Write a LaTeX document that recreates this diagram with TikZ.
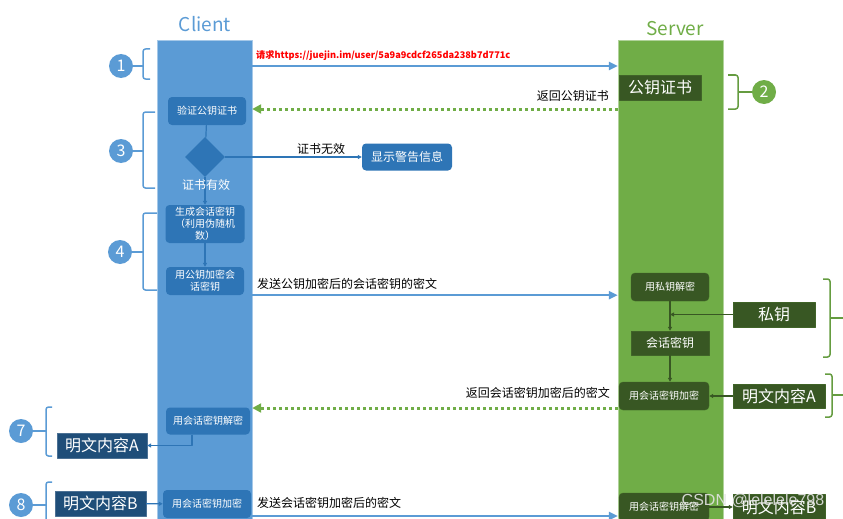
\documentclass[tikz,border=0pt]{standalone}
\usepackage{fontspec}
\setmainfont{Noto Sans CJK SC}
\newfontfamily\wmfont{Liberation Sans}
\usetikzlibrary{shapes.geometric,arrows.meta,calc}

\definecolor{clientblue}{HTML}{5B9BD5}
\definecolor{boxblue}{HTML}{2E75B6}
\definecolor{navyblue}{HTML}{1F4E79}
\definecolor{servergreen}{HTML}{70AD47}
\definecolor{boxgreen}{HTML}{385723}

\begin{document}
\begin{tikzpicture}[x=1pt, y=-1pt, line join=round,
	cbox/.style={fill=boxblue, rounded corners=4pt, text=white, align=center, inner sep=0pt},
	sbox/.style={fill=boxgreen, draw=boxgreen!85!servergreen, text=white, align=center, inner sep=0pt},
	navybox/.style={fill=navyblue, draw=navyblue!80!white, text=white, inner sep=0pt, font=\fontsize{16}{16}\selectfont},
	numc/.style={circle, fill=clientblue, text=white, minimum size=24pt, inner sep=0pt, font=\fontsize{16}{16}\selectfont},
	nums/.style={numc, fill=servergreen},
	cbrace/.style={clientblue, line width=1.5pt, rounded corners=2.5pt},
	sbrace/.style={servergreen!90!black, line width=1.5pt, rounded corners=2.5pt},
	bigarrow/.style={clientblue, line width=2.5pt, -{Triangle[length=9pt,width=8pt]}},
	dotarrow/.style={servergreen, line width=3pt, dash pattern=on 3pt off 3pt, -{Triangle[length=9pt,width=9pt]}},
	carrow/.style={boxblue, line width=1.2pt, -{Triangle[length=4pt,width=4pt]}},
	sarrow/.style={boxgreen, line width=1.2pt, -{Triangle[length=4pt,width=4pt]}},
	lbl/.style={text=black, inner sep=0pt, font=\fontsize{12}{12}\selectfont}]

\useasboundingbox (0,0) rectangle (843,519);

% columns
\node (client) at (204.5, 285) [fill=clientblue, draw=clientblue!55!white, minimum width=95, minimum height=490, inner sep=0pt] {};
\node (server) at (670.5, 285) [fill=servergreen, draw=servergreen!55!white, minimum width=105, minimum height=490, inner sep=0pt] {};
\node (clientname) at (205, 24) [text=clientblue, font=\fontsize{19}{19}\selectfont] {Client};
\node (servername) at (675, 29) [text=servergreen, font=\fontsize{19}{19}\selectfont] {Server};

% step 1
\draw[bigarrow] (client.east |- 0,66) -- (server.west |- 0,66);
\node (url) at (256, 56) [anchor=west, inner sep=0pt, text=red, font=\bfseries\fontsize{9.2}{9.2}\selectfont] {请求https://juejin.im/user/5a9a9cdcf265da238b7d771c};

% step 2
\node (cert) at (660, 87.5) [sbox, minimum width=82, minimum height=25, font=\fontsize{16}{16}\selectfont] {公钥证书};
\draw[dotarrow] (server.west |- 0,109) -- (client.east |- 0,109);
\node (certlbl) at (609, 96) [lbl, anchor=east] {返回公钥证书};

% step 3
\node (verify) at (207, 111) [cbox, minimum width=78, minimum height=28, font=\fontsize{10}{10}\selectfont] {验证公钥证书};
\node (check) at (205, 157) [diamond, fill=boxblue, minimum width=40, minimum height=40, inner sep=0pt] {};
\node (warn) at (407, 157) [cbox, minimum width=90, minimum height=27, font=\fontsize{12}{12}\selectfont] {显示警告信息};
\draw[boxblue, line width=1.2pt] (verify) -- (check);
\draw[carrow] (check.east) -- (warn.west);
\node (invalid) at (321, 149) [lbl] {证书无效};

% step 4
\node (gen) at (205, 224) [cbox, minimum width=79, minimum height=38, font=\fontsize{10}{12}\selectfont] {生成会话密钥\\（利用伪随机\\数）};
\node (encpub) at (205, 281) [cbox, minimum width=78, minimum height=28, font=\fontsize{10}{12}\selectfont] {用公钥加密会\\话密钥};
\draw[carrow] (check.south) -- (gen.north);
\node (valid) at (206, 185) [text=white, inner sep=1pt, font=\fontsize{12}{12}\selectfont] {证书有效};
\draw[carrow] (gen) -- (encpub);
\draw[bigarrow] (client.east |- encpub.south) -- (server.west |- encpub.south);
\node (sendlbl) at (257, 284) [lbl, anchor=west] {发送公钥加密后的会话密钥的密文};

% step 5
\node (decprv) at (670, 287) [sbox, rounded corners=4pt, minimum width=78, minimum height=28, font=\fontsize{10}{10}\selectfont] {用私钥解密};
\node (sesskey) at (670, 343) [sbox, minimum width=78, minimum height=24, font=\fontsize{12}{12}\selectfont] {会话密钥};
\node (prvkey) at (774, 314.5) [sbox, minimum width=82, minimum height=25, font=\fontsize{16}{16}\selectfont] {私钥};
\draw[sarrow] (decprv) -- (sesskey);
\draw[sarrow] (prvkey.west) -- (decprv.south |- prvkey.west);

% step 6
\node (encsess) at (664, 396) [sbox, rounded corners=4pt, minimum width=90, minimum height=28, font=\fontsize{10}{10}\selectfont] {用会话密钥加密};
\node (plainAs) at (779, 396) [sbox, minimum width=92, minimum height=24, font=\fontsize{16}{16}\selectfont] {明文内容A};
\draw[sarrow] (sesskey.south) -- (sesskey.south |- encsess.north);
\draw[sarrow] (plainAs) -- (encsess);
\draw[dotarrow] (server.west |- 0,408) -- (client.east |- 0,408);
\node (retlbl) at (610, 393) [lbl, anchor=east] {返回会话密钥加密后的密文};

% step 7
\node (decsess) at (208, 421) [cbox, minimum width=84, minimum height=27, font=\fontsize{10}{10}\selectfont] {用会话密钥解密};
\node (plainA) at (102, 445.5) [navybox, minimum width=90, minimum height=25] {明文内容A};
\draw[carrow] ($(decsess.south)+(-16,0)$) |- (plainA.east);

% step 8
\node (plainB) at (100.5, 503.5) [navybox, minimum width=91, minimum height=25] {明文内容B};
\node (encsessc) at (207, 504) [cbox, minimum width=88, minimum height=28, font=\fontsize{10}{10}\selectfont] {用会话密钥加密};
\draw[carrow] (plainB) -- (encsessc);
\draw[bigarrow] (client.east |- 0,516) -- (server.west |- 0,516);
\node (sendlbl2) at (257, 503) [lbl, anchor=west] {发送会话密钥加密后的密文};
\node (decsesss) at (664, 507) [sbox, rounded corners=4pt, minimum width=90, minimum height=28, font=\fontsize{10}{10}\selectfont] {用会话密钥解密};
\node (plainBs) at (779, 507) [sbox, minimum width=92, minimum height=25, font=\fontsize{16}{16}\selectfont] {明文内容B};
\draw[sarrow] (decsesss) -- (plainBs);

% numbered braces, client side
\foreach \n/\cx/\cy/\bx/\arm/\top/\bot in {1/121/66/143/7/49/79, 3/121/151/143/12/112/188, 4/120/252/143/14/213/290, 7/21/431/46/6/407/456, 8/21/505/46/6/482/540}{
	\node (num\n) at (\cx, \cy) [numc] {\n};
	\draw[cbrace] (\bx+\arm, \top) -- (\bx, \top) -- (\bx, \bot) -- (\bx+\arm, \bot);
	\draw[cbrace] (num\n) -- (\bx, \cy);
}

% numbered braces, server side
\node (num2) at (764, 92) [nums] {2};
\draw[sbrace] (728, 75) -- (738, 75) -- (738, 109) -- (728, 109);
\draw[sbrace] (738, 92) -- (num2);
\draw[sbrace] (823, 279) -- (830, 279) -- (830, 357) -- (823, 357);
\draw[sbrace] (830, 318) -- (850, 318);
\draw[sbrace] (825, 374) -- (832, 374) -- (832, 417) -- (825, 417);
\draw[sbrace] (832, 395) -- (850, 395);

% watermark
\node (mark) at (753, 501) [text=white!78!gray, opacity=0.9, font=\wmfont\fontsize{16}{16}\selectfont] {CSDN @lelelele798};

\end{tikzpicture}
\end{document}
